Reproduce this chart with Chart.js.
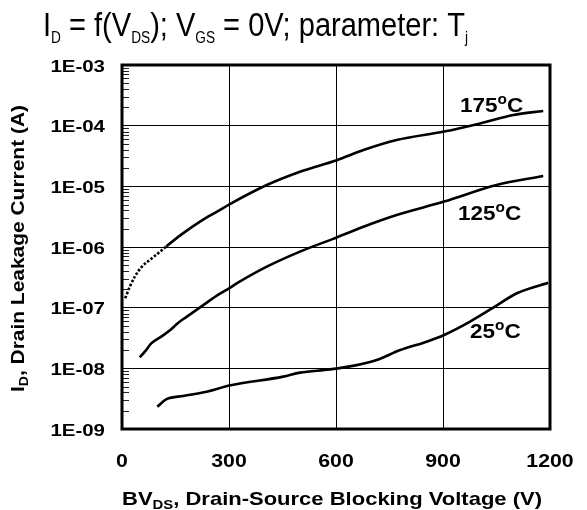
<!DOCTYPE html>
<html>
<head>
<meta charset="utf-8">
<style>
  html, body { margin: 0; padding: 0; background: #fff; }
  canvas { display: block; }
</style>
<script src="https://cdn.jsdelivr.net/npm/chart.js@4"></script>
</head>
<body>
<canvas id="leakage" width="587" height="510"></canvas>
<script>
// Axis ticks
const xTickValues = [0, 300, 600, 900, 1200];
const xTickLabels = ['0', '300', '600', '900', '1200'];
const yTickValues = [1e-9, 1e-8, 1e-7, 1e-6, 1e-5, 1e-4, 1e-3];
const yTickLabels = ['1E-09', '1E-08', '1E-07', '1E-06', '1E-05', '1E-04', '1E-03'];

// Junction temperatures (°C) of the three curves
const temperatures = ['175', '125', '25'];

// Tj = 175 °C
const voltage175 = [9, 22, 36, 54, 82, 106, 124, 166, 222, 269, 300, 406, 499, 602, 677, 770, 903, 1004, 1097, 1181];
const current175 = [1.43e-7, 2.22e-7, 3.24e-7, 4.63e-7, 6.4e-7, 8.3e-7, 1.02e-6, 1.6e-6, 2.7e-6, 3.9e-6, 5.0e-6, 1.05e-5, 1.74e-5, 2.7e-5, 3.97e-5, 5.8e-5, 8.0e-5, 1.09e-4, 1.5e-4, 1.75e-4];

// Tj = 125 °C
const voltage125 = [50, 64, 82, 110, 138, 157, 180, 222, 269, 300, 325, 406, 499, 590, 677, 770, 903, 1050, 1181];
const current125 = [1.52e-8, 1.88e-8, 2.58e-8, 3.33e-8, 4.4e-8, 5.6e-8, 7.0e-8, 1.04e-7, 1.62e-7, 2.08e-7, 2.58e-7, 4.74e-7, 8.4e-7, 1.35e-6, 2.16e-6, 3.37e-6, 5.6e-6, 1.05e-5, 1.48e-5];

// Tj = 25 °C
const voltage25 = [99, 125, 172, 237, 301, 452, 499, 583, 658, 714, 780, 854, 903, 976, 1041, 1107, 1195];
const current25 = [2.33e-9, 3.1e-9, 3.5e-9, 4.1e-9, 5.2e-9, 7.3e-9, 8.5e-9, 9.6e-9, 1.13e-8, 1.37e-8, 2.0e-8, 2.75e-8, 3.55e-8, 5.9e-8, 1.0e-7, 1.73e-7, 2.58e-7];

const toPoints = (xs, ys) => xs.map((x, i) => ({ x: x, y: ys[i] }));

const FONT = '"Liberation Sans", Arial, Helvetica, sans-serif';

// Draw a run of text pieces (with sub/superscripts), stretched horizontally by sx
// or fitted to a target width.
function drawRuns(ctx, runs, x, y, opts) {
  let total = 0;
  runs.forEach(r => {
    ctx.font = (r.bold ? 'bold ' : '') + r.size + 'px ' + FONT;
    r.w = ctx.measureText(r.text).width;
    total += r.w;
  });
  const sx = opts.width ? opts.width / total : (opts.sx || 1);
  ctx.save();
  ctx.translate(x, y);
  if (opts.rotate) ctx.rotate(opts.rotate);
  ctx.scale(sx, 1);
  let cx = opts.align === 'center' ? -total / 2 : opts.align === 'right' ? -total : 0;
  ctx.fillStyle = '#000';
  ctx.textBaseline = 'alphabetic';
  ctx.textAlign = 'left';
  runs.forEach(r => {
    ctx.font = (r.bold ? 'bold ' : '') + r.size + 'px ' + FONT;
    ctx.fillText(r.text, cx, r.dy || 0);
    cx += r.w;
  });
  ctx.restore();
}

const decorations = {
  id: 'decorations',
  beforeDraw(chart) {
    const ctx = chart.ctx;
    ctx.save();
    ctx.fillStyle = '#fff';
    ctx.fillRect(0, 0, chart.width, chart.height);
    ctx.restore();
  },
  afterDatasetsDraw(chart) {
    const ctx = chart.ctx;
    const a = chart.chartArea;
    const ys = chart.scales.y;
    const xs = chart.scales.x;

    // minor log ticks on the inner side of the left frame
    ctx.save();
    ctx.strokeStyle = '#222';
    ctx.lineWidth = 1;
    for (let d = 0; d < yTickValues.length - 1; d++) {
      for (let k = 2; k <= 9; k++) {
        const py = Math.round(ys.getPixelForValue(yTickValues[d] * k)) + 0.5;
        ctx.beginPath();
        ctx.moveTo(a.left, py);
        ctx.lineTo(a.left + 7, py);
        ctx.stroke();
      }
    }
    // frame
    ctx.lineWidth = 3;
    ctx.strokeStyle = '#000';
    ctx.strokeRect(a.left, a.top, a.right - a.left, a.bottom - a.top);
    ctx.restore();

    // tick labels
    yTickValues.forEach((v, i) => {
      drawRuns(ctx, [{ text: yTickLabels[i], size: 16.5, bold: true }],
        a.left - 17, ys.getPixelForValue(v) + 6.5, { sx: 1.24, align: 'right' });
    });
    xTickValues.forEach((v, i) => {
      drawRuns(ctx, [{ text: xTickLabels[i], size: 18.5, bold: true }],
        xs.getPixelForValue(v), a.bottom + 38, { sx: 1.15, align: 'center' });
    });

    // curve labels
    const labelPos = [
      { x: 460, y: 112 },
      { x: 458, y: 220 },
      { x: 470, y: 338 }
    ];
    temperatures.forEach((t, i) => {
      drawRuns(ctx, [
        { text: t, size: 20.5, bold: true },
        { text: 'o', size: 14, bold: true, dy: -8 },
        { text: 'C', size: 20.5, bold: true }
      ], labelPos[i].x, labelPos[i].y, { sx: 1.1 });
    });

    // title
    drawRuns(ctx, [
      { text: 'I', size: 34 },
      { text: 'D', size: 16, dy: 7 },
      { text: ' = f(V', size: 34 },
      { text: 'DS', size: 16, dy: 7 },
      { text: '); V', size: 34 },
      { text: 'GS', size: 16, dy: 7 },
      { text: ' = 0V; parameter: T', size: 34 },
      { text: 'j', size: 16, dy: 7 }
    ], 43, 36, { width: 425 });

    // axis titles
    drawRuns(ctx, [
      { text: 'BV', size: 18.5, bold: true },
      { text: 'DS', size: 12.5, bold: true, dy: 4 },
      { text: ', Drain-Source Blocking Voltage (V)', size: 18.5, bold: true }
    ], 122, 505, { width: 420 });
    drawRuns(ctx, [
      { text: 'I', size: 18, bold: true },
      { text: 'D', size: 12, bold: true, dy: 4 },
      { text: ', Drain Leakage Current (A)', size: 18, bold: true }
    ], 24, 248.5, { width: 287, align: 'center', rotate: -Math.PI / 2 });
  }
};

const lineStyle = {
  borderColor: '#000',
  borderWidth: 2.6,
  pointRadius: 0,
  fill: false,
  cubicInterpolationMode: 'monotone'
};

new Chart(document.getElementById('leakage'), {
  type: 'line',
  data: {
    datasets: [
      Object.assign({
        label: temperatures[0],
        data: toPoints(voltage175, current175),
        segment: { borderDash: c => (c.p1.parsed.x <= 124 ? [2.5, 1.8] : undefined) }
      }, lineStyle),
      Object.assign({ label: temperatures[1], data: toPoints(voltage125, current125) }, lineStyle),
      Object.assign({ label: temperatures[2], data: toPoints(voltage25, current25) }, lineStyle)
    ]
  },
  options: {
    responsive: false,
    animation: false,
    devicePixelRatio: 1,
    layout: { padding: { left: 122, top: 65, right: 37, bottom: 81 } },
    plugins: { legend: { display: false }, title: { display: false }, tooltip: { enabled: false } },
    scales: {
      x: {
        type: 'linear',
        min: 0,
        max: 1200,
        afterBuildTicks: s => { s.ticks = xTickValues.map(v => ({ value: v })); },
        ticks: { display: false },
        grid: { color: '#000', lineWidth: 1, drawTicks: false },
        border: { display: false }
      },
      y: {
        type: 'logarithmic',
        min: 1e-9,
        max: 1e-3,
        afterBuildTicks: s => { s.ticks = yTickValues.map(v => ({ value: v })); },
        ticks: { display: false },
        grid: { color: '#000', lineWidth: 1, drawTicks: false },
        border: { display: false }
      }
    }
  },
  plugins: [decorations]
});
</script>
</body>
</html>
